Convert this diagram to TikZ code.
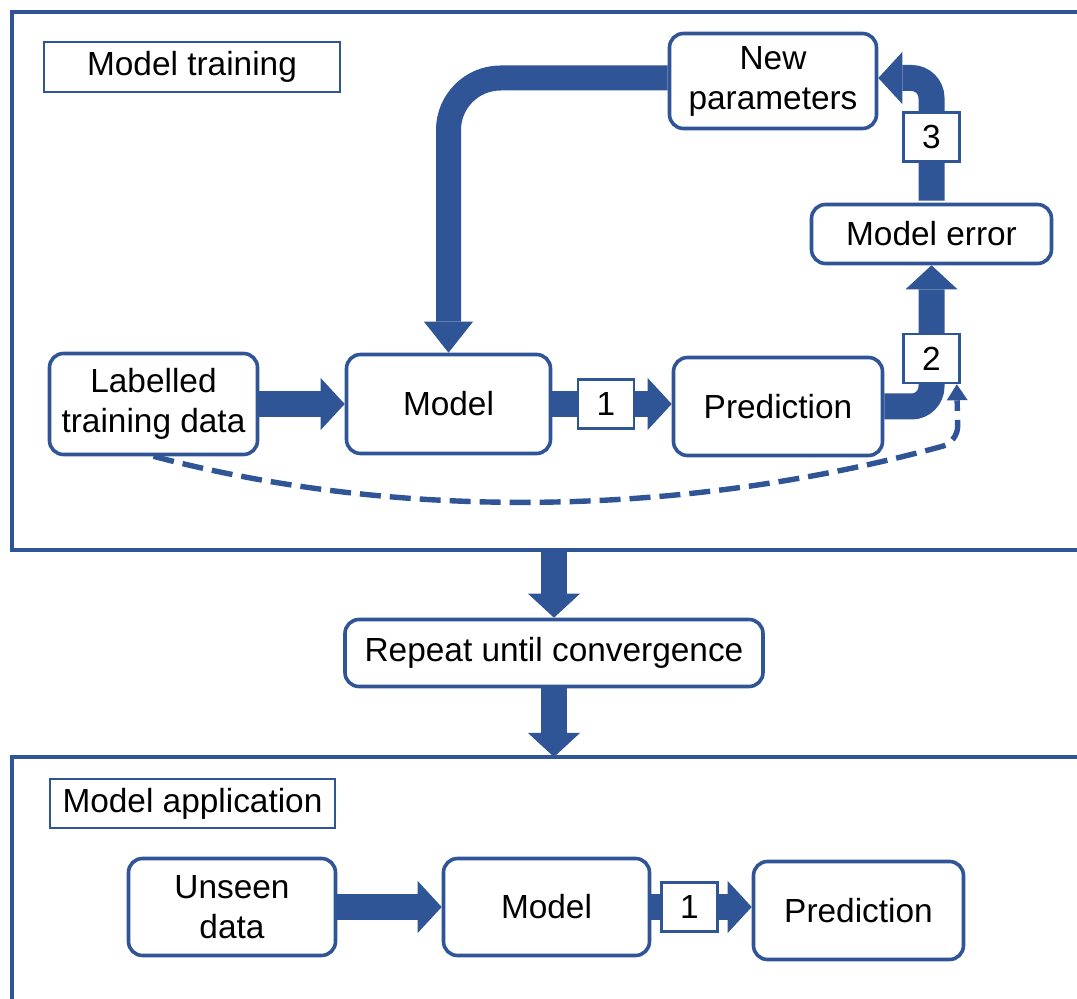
\documentclass[tikz,border=0pt]{standalone}
\usepackage{fontspec}
\setmainfont{Liberation Sans}
\usetikzlibrary{arrows.meta}
\definecolor{flowblue}{RGB}{47,85,151}

\begin{document}
\begin{tikzpicture}[
  x=0.5pt, y=-0.5pt, % pixel grid of the page, y runs downwards
  every node/.style={font=\fontsize{16.7}{20}\selectfont, text=black},
  procbox/.style={draw=flowblue, line width=1.8pt, rounded corners=7pt, fill=white, align=center, inner sep=2pt},
  titlebox/.style={draw=flowblue, line width=1.3pt, fill=white, inner sep=2pt},
  numbox/.style={draw=flowblue, line width=1.3pt, sharp corners, fill=white, minimum width=28pt, minimum height=24.5pt, inner sep=0pt},
  flow/.style={draw=flowblue, line width=13pt, -{Triangle[length=12pt, width=26pt, line width=0pt]}},
  feedback/.style={draw=flowblue, line width=2.7pt, dash pattern=on 10.5pt off 4.5pt, -{Triangle[length=8pt, width=10.5pt, line width=0pt]}},
  frame/.style={draw=flowblue, line width=2pt}
]
  \useasboundingbox (0,0) rectangle (1077,999);

  % frames of the two stages
  \draw[frame] (1082,12) -- (12,12) -- (12,550) -- (1082,550);
  \draw[frame] (1082,757) -- (12,757) -- (12,1004);

  % model training
  \node[titlebox, minimum width=148pt, minimum height=25pt] (trainlbl) at (192,67) {Model training};
  \node[procbox, minimum width=104pt, minimum height=50.5pt] (lab) at (153.5,404) {Labelled\\training data};
  \node[procbox, minimum width=102pt, minimum height=49.5pt] (model) at (448.5,404) {Model};
  \node[procbox, minimum width=104.5pt, minimum height=49pt] (pred) at (778,406.5) {Prediction};
  \node[procbox, minimum width=120pt, minimum height=29.5pt] (merr) at (931.5,234) {Model error};
  \node[procbox, minimum width=103.5pt, minimum height=47.5pt] (newp) at (773,81) {New\\parameters};

  \draw[flow] (lab) -- (model);
  \draw[flow] (model.east) -- node[numbox, pos=0.45] (n1) {1} (model.east -| pred.west);
  \draw[flow, rounded corners=10pt] (pred.east) -| node[numbox, pos=0.67] (n2) {2} (merr.south);
  \draw[flow, rounded corners=10pt] ([yshift=1pt]merr.north) |- node[numbox, pos=0.26] (n3) {3} ([yshift=1.5pt]newp.east);
  \draw[flow, line width=12.5pt, -{Triangle[length=15.5pt, width=24.5pt, line width=0pt]}, rounded corners=26pt] ([yshift=1.5pt]newp.west) -| (model.north);

  \coordinate (dturn) at (958,442);
  \draw[feedback, rounded corners=8pt] (lab.south) .. controls +(250,66) and +(-270,74) .. (dturn) -- ([xshift=-2pt]n2.south east);

  % repeat step between the stages
  \node[procbox, minimum width=209pt, minimum height=33.5pt] (repeat) at (554,653) {Repeat until convergence};
  \coordinate (trainbot) at (554,550);
  \coordinate (apptop) at (554,757);
  \draw[flow] (trainbot) -- (repeat);
  \draw[flow] (repeat) -- (apptop);

  % model application
  \node[titlebox, minimum width=142.5pt, minimum height=24.5pt] (applbl) at (192.5,803.5) {Model application};
  \node[procbox, minimum width=103.5pt, minimum height=48.5pt] (unseen) at (232,907) {Unseen\\data};
  \node[procbox, minimum width=103pt, minimum height=48.5pt] (model2) at (546.5,907) {Model};
  \node[procbox, minimum width=105pt, minimum height=49pt] (pred2) at (858.5,910.5) {Prediction};

  \draw[flow] (unseen) -- (model2);
  \draw[flow] (model2.east) -- node[numbox, pos=0.38] (n1b) {1} (model2.east -| pred2.west);
\end{tikzpicture}
\end{document}
